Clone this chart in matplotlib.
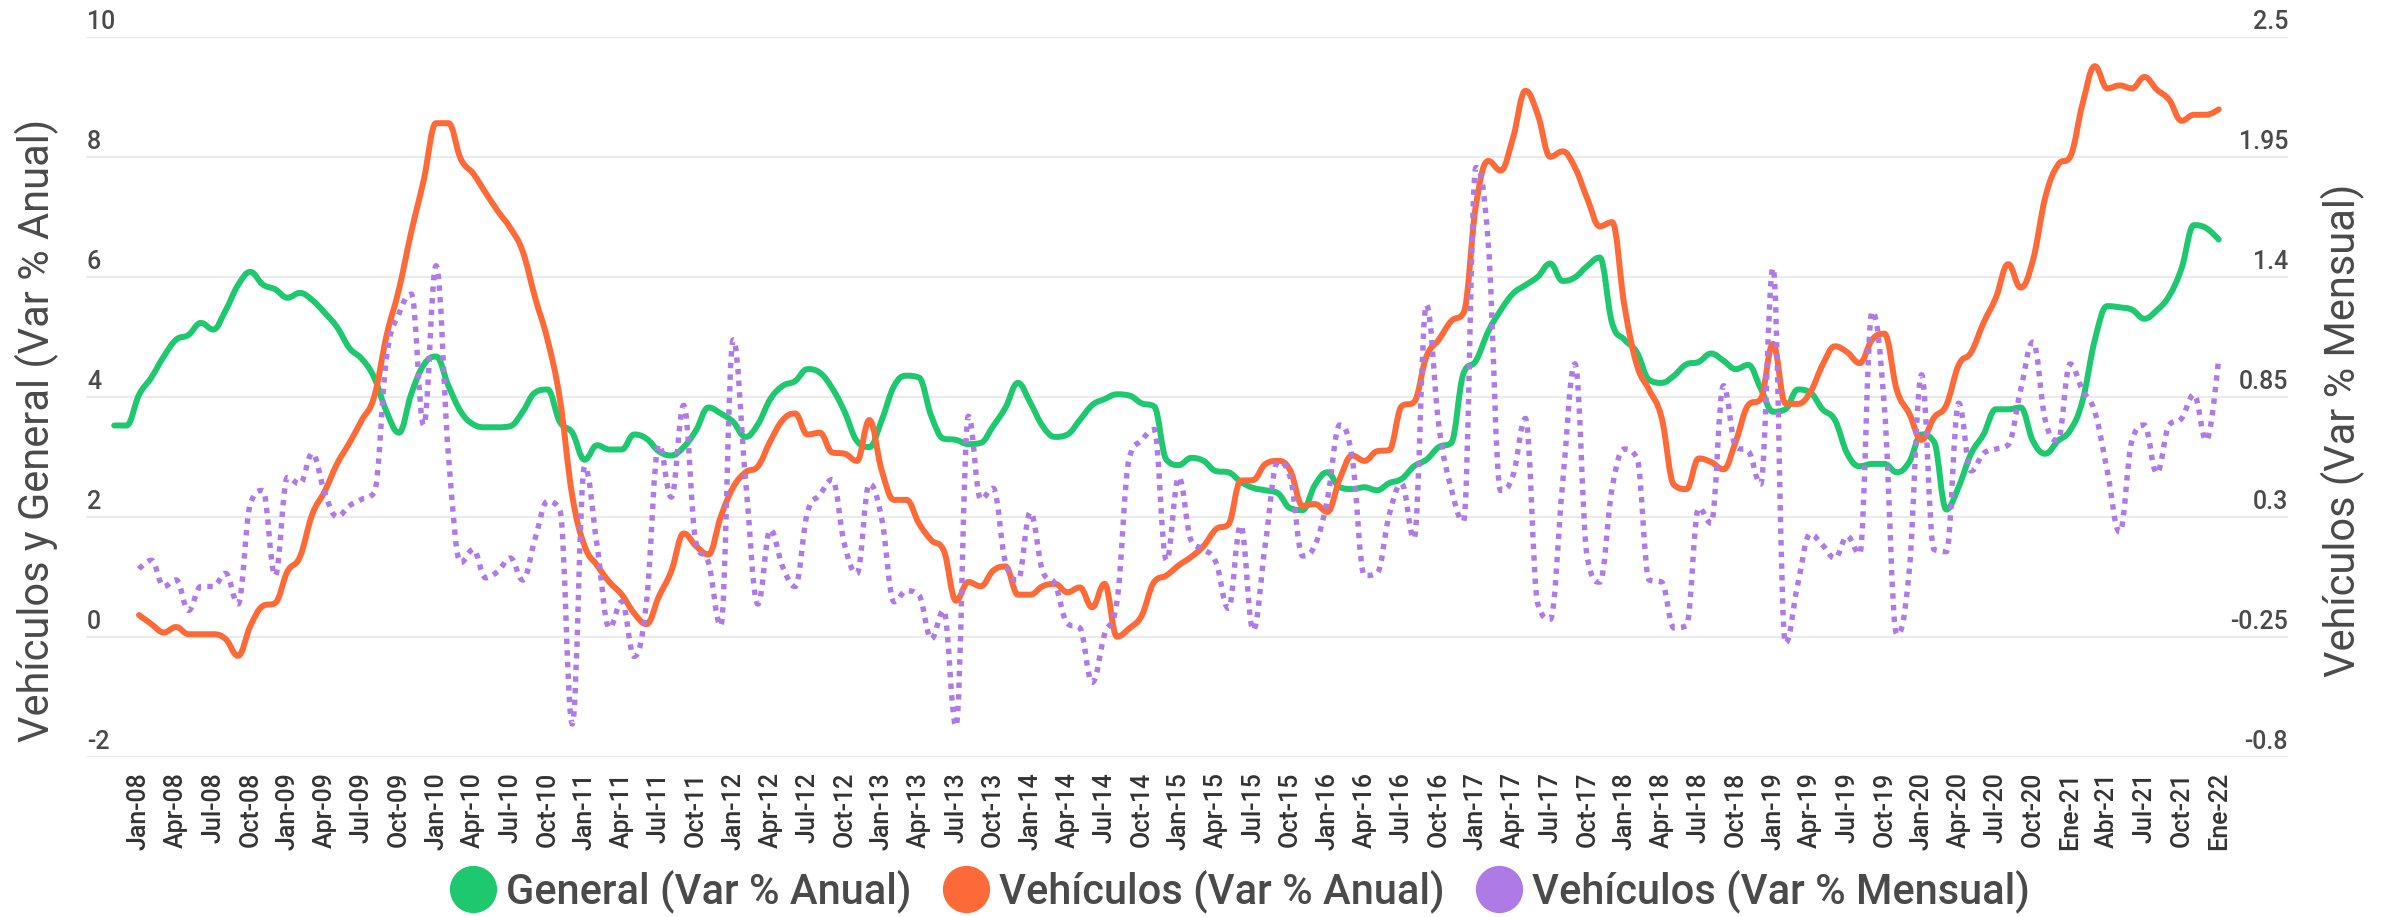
import matplotlib
matplotlib.use("Agg")
import matplotlib.pyplot as plt
from matplotlib.path import Path
from matplotlib.patches import PathPatch
from matplotlib.lines import Line2D
from matplotlib import transforms

plt.rcParams['font.family'] = ['Roboto', 'DejaVu Sans']

# Month index: 0 = Jan-08
general_start = -2
general = [
    3.52, 3.52,
    4.03, 4.32, 4.67, 4.95, 5.03, 5.23, 5.12, 5.44, 5.86, 6.08, 5.87, 5.79,
    5.65, 5.73, 5.61, 5.40, 5.16, 4.81, 4.63, 4.32, 3.75, 3.40, 4.05, 4.53,
    4.67, 4.18, 3.75, 3.54, 3.49, 3.49, 3.51, 3.75, 4.07, 4.12, 3.58, 3.40,
    2.95, 3.19, 3.12, 3.12, 3.37, 3.30, 3.09, 3.02, 3.16, 3.44, 3.82, 3.72,
    3.58, 3.33, 3.54, 3.96, 4.18, 4.26, 4.46, 4.40, 4.14, 3.75, 3.26, 3.16,
    3.61, 4.18, 4.35, 4.32, 3.68, 3.30, 3.28, 3.21, 3.23, 3.51, 3.82, 4.23,
    3.90, 3.51, 3.33, 3.37, 3.61, 3.86, 3.96, 4.04, 4.02, 3.89, 3.84, 2.95,
    2.86, 2.98, 2.93, 2.76, 2.74, 2.58, 2.48, 2.44, 2.39, 2.14, 2.11, 2.53,
    2.74, 2.49, 2.46, 2.49, 2.44, 2.56, 2.63, 2.84, 2.95, 3.16, 3.23, 4.39,
    4.60, 5.09, 5.44, 5.72, 5.86, 6.00, 6.22, 5.93, 5.99, 6.18, 6.32, 5.23,
    4.95, 4.74, 4.28, 4.23, 4.35, 4.54, 4.58, 4.72, 4.60, 4.46, 4.53, 4.14,
    3.75, 3.79, 4.12, 4.07, 3.79, 3.61, 3.05, 2.84, 2.88, 2.88, 2.74, 2.91,
    3.37, 3.25, 2.12, 2.50, 3.05, 3.37, 3.79, 3.79, 3.82, 3.26, 3.05, 3.26,
    3.44, 3.93, 4.95, 5.51, 5.49, 5.45, 5.30, 5.44, 5.68, 6.14, 6.86, 6.81,
    6.62,
]

vehiculos_start = 0
vehiculos_anual = [
    0.36, 0.21, 0.07, 0.16, 0.04, 0.04, 0.04, -0.04, -0.32, 0.18, 0.51, 0.56,
    1.09, 1.33, 2.04, 2.42, 2.88, 3.23, 3.61, 4.00, 5.02, 5.79, 6.75, 7.61,
    8.56, 8.56, 7.96, 7.72, 7.40, 7.09, 6.81, 6.42, 5.65, 4.95, 3.96, 2.35,
    1.51, 1.19, 0.91, 0.70, 0.39, 0.21, 0.67, 1.09, 1.72, 1.51, 1.37, 2.00,
    2.49, 2.74, 2.84, 3.26, 3.61, 3.72, 3.37, 3.40, 3.07, 3.05, 2.93, 3.61,
    2.77, 2.28, 2.28, 1.89, 1.61, 1.44, 0.60, 0.91, 0.84, 1.10, 1.17, 0.70,
    0.70, 0.84, 0.88, 0.74, 0.82, 0.49, 0.88, 0.00, 0.14, 0.35, 0.91, 1.02,
    1.19, 1.33, 1.51, 1.79, 1.87, 2.60, 2.61, 2.88, 2.93, 2.77, 2.18, 2.21,
    2.08, 2.63, 3.02, 2.93, 3.09, 3.11, 3.84, 3.91, 4.67, 4.95, 5.26, 5.40,
    7.19, 7.93, 7.77, 8.32, 9.10, 8.70, 8.00, 8.09, 7.82, 7.30, 6.84, 6.91,
    5.51, 4.53, 4.11, 3.65, 2.53, 2.46, 2.97, 2.91, 2.79, 3.26, 3.86, 3.96,
    4.88, 3.89, 3.88, 4.07, 4.53, 4.84, 4.74, 4.56, 4.95, 5.05, 4.11, 3.72,
    3.28, 3.65, 3.86, 4.53, 4.74, 5.23, 5.65, 6.21, 5.82, 6.28, 7.33, 7.86,
    8.00, 8.88, 9.51, 9.14, 9.19, 9.14, 9.33, 9.12, 8.95, 8.60, 8.70, 8.70,
    8.79,
]

vehiculos_mensual = [
    0.06, 0.10, -0.02, 0.01, -0.13, -0.02, -0.02, 0.04, -0.10, 0.36, 0.42, 0.03,
    0.48, 0.45, 0.59, 0.41, 0.30, 0.35, 0.38, 0.41, 1.03, 1.23, 1.32, 0.72,
    1.45, 0.58, 0.09, 0.15, 0.02, 0.05, 0.11, 0.01, 0.20, 0.37, 0.33, -0.65,
    0.53, 0.17, -0.21, -0.09, -0.34, -0.09, 0.63, 0.39, 0.81, 0.18, 0.09, -0.20,
    1.11, 0.47, -0.10, 0.24, 0.07, -0.02, 0.32, 0.40, 0.47, 0.17, 0.04, 0.45,
    0.29, -0.09, -0.04, -0.06, -0.26, -0.13, -0.66, 0.76, 0.38, 0.43, 0.09, 0.01,
    0.32, 0.05, -0.01, -0.19, -0.21, -0.46, -0.24, -0.09, 0.57, 0.65, 0.70, 0.10,
    0.48, 0.19, 0.15, 0.09, -0.12, 0.26, -0.22, 0.18, 0.55, 0.48, 0.12, 0.17,
    0.38, 0.72, 0.57, 0.03, 0.04, 0.31, 0.45, 0.20, 1.27, 0.72, 0.43, 0.28,
    1.90, 1.55, 0.42, 0.49, 0.75, -0.10, -0.17, 0.45, 1.00, 0.11, 0.00, 0.43,
    0.61, 0.57, 0.01, 0.00, -0.21, -0.20, 0.34, 0.27, 0.90, 0.62, 0.60, 0.45,
    1.44, -0.28, -0.01, 0.22, 0.17, 0.11, 0.21, 0.13, 1.24, 0.80, -0.24, 0.05,
    0.95, 0.15, 0.14, 0.82, 0.51, 0.59, 0.61, 0.63, 0.88, 1.10, 0.74, 0.65,
    1.00, 0.88, 0.78, 0.51, 0.23, 0.65, 0.72, 0.50, 0.72, 0.75, 0.86, 0.65,
    1.03,
]

tick_labels = [
    "Jan-08", "Apr-08", "Jul-08", "Oct-08", "Jan-09", "Apr-09", "Jul-09", "Oct-09",
    "Jan-10", "Apr-10", "Jul-10", "Oct-10", "Jan-11", "Apr-11", "Jul-11", "Oct-11",
    "Jan-12", "Apr-12", "Jul-12", "Oct-12", "Jan-13", "Apr-13", "Jul-13", "Oct-13",
    "Jan-14", "Apr-14", "Jul-14", "Oct-14", "Jan-15", "Apr-15", "Jul-15", "Oct-15",
    "Jan-16", "Apr-16", "Jul-16", "Oct-16", "Jan-17", "Apr-17", "Jul-17", "Oct-17",
    "Jan-18", "Apr-18", "Jul-18", "Oct-18", "Jan-19", "Apr-19", "Jul-19", "Oct-19",
    "Jan-20", "Apr-20", "Jul-20", "Oct-20", "Ene-21", "Abr-21", "Jul-21", "Oct-21",
    "Ene-22",
]

left_ticks = [-2, 0, 2, 4, 6, 8, 10]
left_tick_labels = ["-2", "0", "2", "4", "6", "8", "10"]
right_ticks = [-0.8, -0.25, 0.3, 0.85, 1.4, 1.95, 2.5]
right_tick_labels = ["-0.8", "-0.25", "0.3", "0.85", "1.4", "1.95", "2.5"]

series_names = ["General (Var % Anual)", "Vehículos (Var % Anual)",
                "Vehículos (Var % Mensual)"]
GREEN, ORANGE, PURPLE = "#1dc86e", "#fe6a37", "#ad7ae6"
TEXT = "#4a4a4a"


def spline_path(xs, ys, smoothing=1.5):
    """Smooth cubic path through the points (no overshoot at local extremes)."""
    n = len(xs)
    denom = smoothing + 1.0
    left = [(xs[i], ys[i]) for i in range(n)]
    right = [(xs[i], ys[i]) for i in range(n)]
    for i in range(1, n - 1):
        px, py = xs[i], ys[i]
        lx, ly = xs[i - 1], ys[i - 1]
        nx, ny = xs[i + 1], ys[i + 1]
        lcx = (smoothing * px + lx) / denom
        lcy = (smoothing * py + ly) / denom
        rcx = (smoothing * px + nx) / denom
        rcy = (smoothing * py + ny) / denom
        if rcx != lcx:
            corr = ((rcy - lcy) * (rcx - px)) / (rcx - lcx) + py - rcy
            lcy += corr
            rcy += corr
        if lcy > ly and lcy > py:
            lcy = max(ly, py)
            rcy = 2 * py - lcy
        elif lcy < ly and lcy < py:
            lcy = min(ly, py)
            rcy = 2 * py - lcy
        if rcy > ny and rcy > py:
            rcy = max(ny, py)
            lcy = 2 * py - rcy
        elif rcy < ny and rcy < py:
            rcy = min(ny, py)
            lcy = 2 * py - rcy
        left[i] = (lcx, lcy)
        right[i] = (rcx, rcy)
    verts = [(xs[0], ys[0])]
    codes = [Path.MOVETO]
    for i in range(1, n):
        verts += [right[i - 1], left[i], (xs[i], ys[i])]
        codes += [Path.CURVE4] * 3
    return Path(verts, codes)


def draw_series(axis, start, values, **kw):
    xs = [start + i for i in range(len(values))]
    patch = PathPatch(spline_path(xs, values), facecolor="none", **kw)
    axis.add_patch(patch)


W, H = 2395, 917
fig = plt.figure(figsize=(W / 100, H / 100), dpi=100, facecolor="white")
x_left, x_right, y_top, y_bot = 86, 2288, 36.8, 756.6
ax = fig.add_axes([x_left / W, 1 - y_bot / H, (x_right - x_left) / W, (y_bot - y_top) / H])
ax.set_xlim(-4.28, 173.6)
ax.set_ylim(-2, 10)
ax2 = ax.twinx()
ax2.set_ylim(-0.8, 2.5)

for a in (ax, ax2):
    for s in a.spines.values():
        s.set_visible(False)
    a.set_yticks([])
    a.patch.set_visible(False)

for v in left_ticks:
    ax.axhline(v, color="#ebebeb", lw=1.6, zorder=0)

draw_series(ax, general_start, general, edgecolor=GREEN, lw=4.3,
            capstyle="round", joinstyle="round", zorder=3)
draw_series(ax, vehiculos_start, vehiculos_anual, edgecolor=ORANGE, lw=4.3,
            capstyle="round", joinstyle="round", zorder=4)
draw_series(ax2, vehiculos_start, vehiculos_mensual, edgecolor=PURPLE, lw=3.9,
            linestyle=(0, (1.0, 1.15)), capstyle="butt", zorder=5)

# Axis value labels sit just above their grid lines, inside the plot area
lab_font = dict(fontsize=18, color=TEXT, fontweight="medium")
tl = transforms.offset_copy(ax.get_yaxis_transform(), fig=fig, x=1, y=15, units="dots")
for v, s in zip(left_ticks, left_tick_labels):
    ax.text(0, v, s, transform=tl, ha="left", va="center", **lab_font)
tr = transforms.offset_copy(ax2.get_yaxis_transform(), fig=fig, x=0, y=15, units="dots")
for v, s in zip(right_ticks, right_tick_labels):
    ax2.text(1, v, s, transform=tr, ha="right", va="center", **lab_font)

ax.set_xticks(range(0, 3 * len(tick_labels), 3))
ax.set_xticklabels(tick_labels, rotation=90, fontsize=18, color="#333333",
                   fontweight="medium")
ax.tick_params(axis="x", length=0, pad=11)
ax2.tick_params(axis="x", length=0)

fig.text(37 / W, 1 - 430 / H, "Vehículos y General (Var % Anual)", rotation=90,
         ha="center", va="center", fontsize=30, color=TEXT)
fig.text(2343 / W, 1 - 430 / H, "Vehículos (Var % Mensual)", rotation=90,
         ha="center", va="center", fontsize=30, color=TEXT)

handles = [Line2D([], [], marker="o", ls="none", markersize=33,
                  markerfacecolor=c, markeredgecolor=c)
           for c in (GREEN, ORANGE, PURPLE)]
fig.legend(handles, series_names, loc="center", bbox_to_anchor=(1240 / W, 1 - 891 / H),
           ncol=3, frameon=False, prop=dict(size=30, weight="medium"),
           labelcolor=TEXT, handlelength=1.1, handletextpad=0.25, columnspacing=0.75,
           borderpad=0, borderaxespad=0)

fig.savefig("out.png", dpi=100, facecolor="white")
